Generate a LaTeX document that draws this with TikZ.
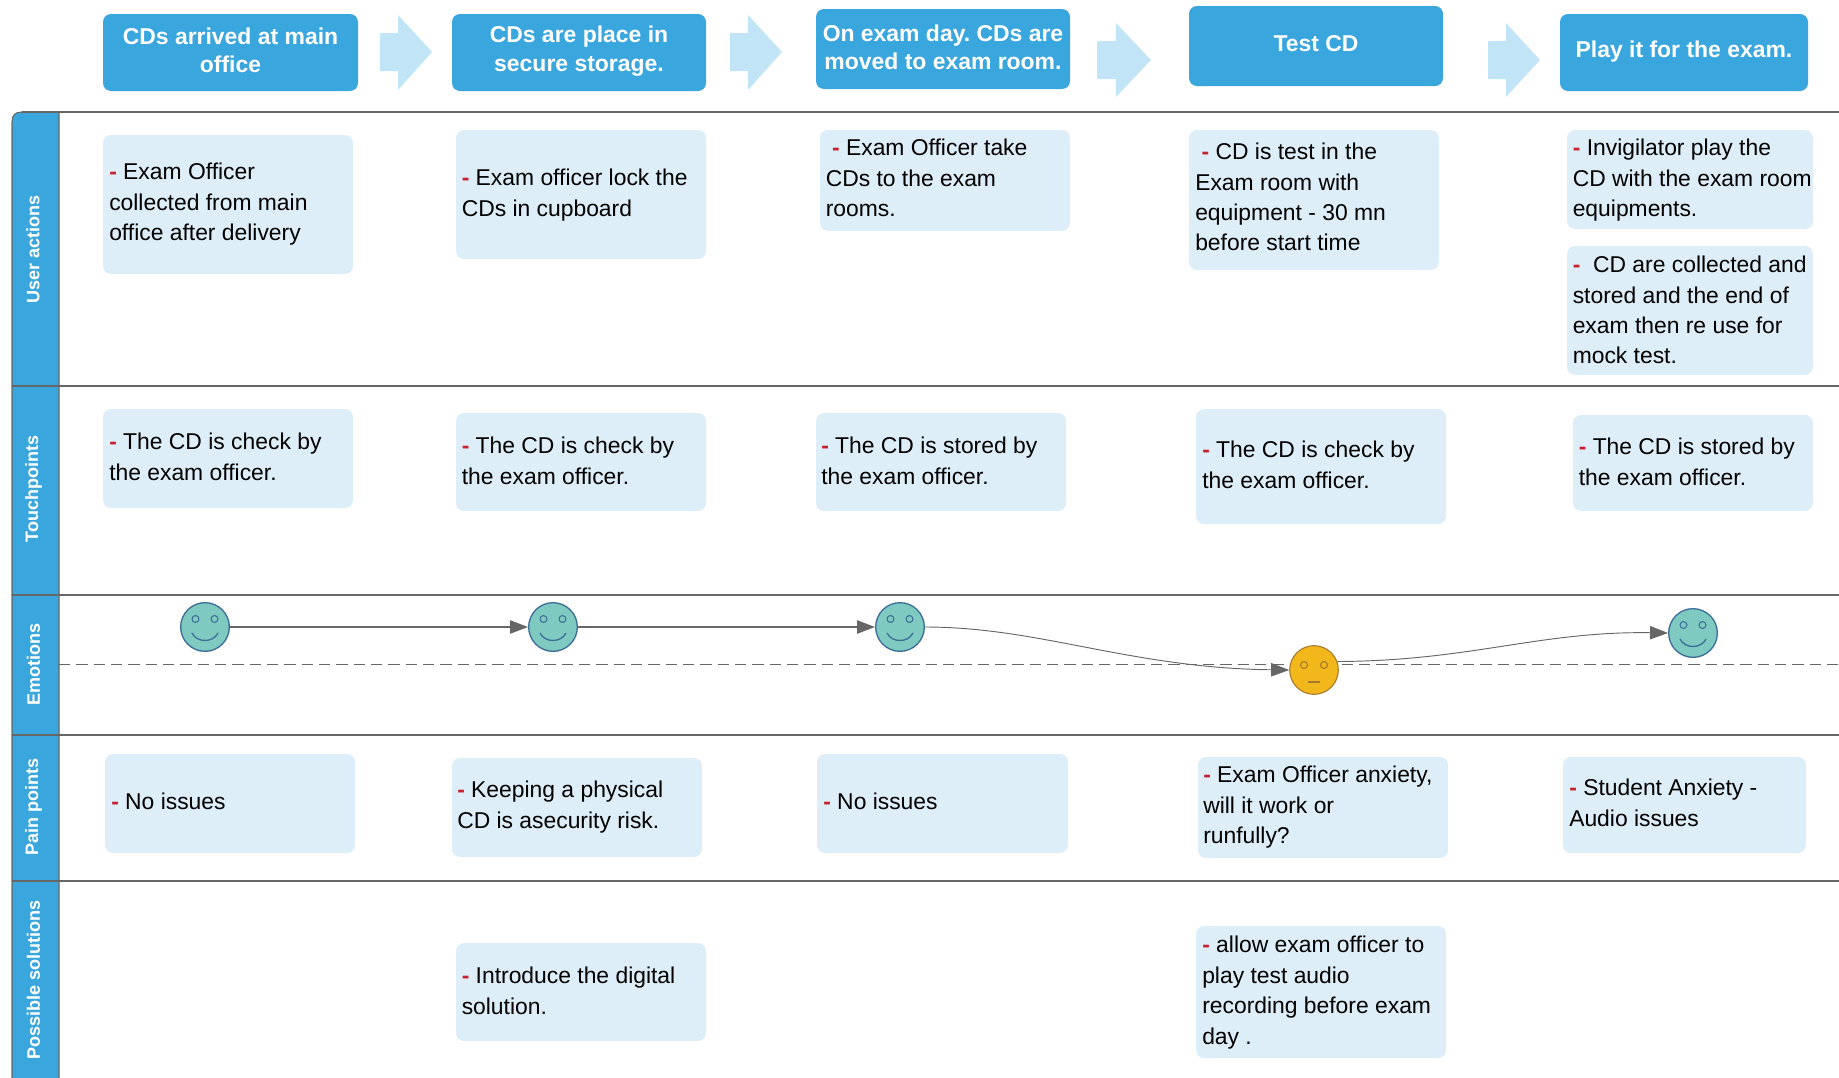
\documentclass[tikz,border=0pt]{standalone}
\usepackage{fontspec}
\setmainfont{Liberation Sans}
\usetikzlibrary{arrows.meta}
\frenchspacing

\definecolor{headblue}{HTML}{3AA6DE}
\definecolor{cardblue}{HTML}{DDEEF9}
\definecolor{steparrow}{HTML}{C1E4F7}
\definecolor{linegray}{HTML}{666666}
\definecolor{dashred}{HTML}{C9202F}
\definecolor{facegreen}{HTML}{7FCAC0}
\definecolor{faceedge}{HTML}{3C6E98}
\definecolor{faceorange}{HTML}{F2B71B}
\definecolor{orangeedge}{HTML}{A5792B}

\newcommand{\rd}{\textcolor{dashred}{\textbf{-}}}

\tikzset{
  headbox/.style={fill=headblue,draw=none,rounded corners=6pt},
  headtext/.style={inner sep=0pt,align=center,text=white,font=\bfseries\fontsize{17.2}{21.2}\selectfont},
  cardbox/.style={fill=cardblue,draw=none,rounded corners=6pt},
  cardtext/.style={anchor=north west,inner sep=0pt,align=left,font=\fontsize{17.15}{22.85}\selectfont},
  lanetext/.style={inner sep=0pt,rotate=90,text=white,font=\bfseries\fontsize{13.5}{16}\selectfont},
  laneline/.style={draw=linegray,line width=1.2pt},
  stepshape/.style={fill=steparrow,draw=none},
  goodface/.style={circle,minimum size=36.5pt,inner sep=0pt,fill=facegreen,draw=faceedge,line width=1pt},
  flatface/.style={circle,minimum size=36.5pt,inner sep=0pt,fill=faceorange,draw=orangeedge,line width=0.8pt},
  moodline/.style={draw=linegray,-{Triangle[length=13.5pt,width=10pt]}},
  smile/.pic={
    \draw [faceedge,line width=0.8pt] (-9.5,8) circle (2.6pt) (9.5,8) circle (2.6pt);
    \draw [faceedge,line width=1pt] (-13,-6) .. controls (-8,-16) and (8,-16) .. (13,-6);
  },
  flat/.pic={
    \draw [orangeedge,line width=0.8pt] (-10,5) circle (2.6pt) (10,5) circle (2.6pt);
    \draw [orangeedge,line width=0.8pt] (-6,-12) -- (6,-12);
  }
}

\begin{document}
\begin{tikzpicture}[x=0.75pt,y=0.75pt,yscale=-1,xscale=1]
\useasboundingbox (0,0) rectangle (1839,1078);

%Shape: lane header strip
\draw [fill=headblue,draw=linegray,line width=0.8pt] (59,1078) -- (59,112) -- (22,112) .. controls (15,112) and (12,115) .. (12,122) -- (12,1078) ;
%Shape: lane lines
\draw [laneline] (12,386) -- (1839,386) ;
\draw [laneline] (12,595) -- (1839,595) ;
\draw [laneline] (12,735) -- (1839,735) ;
\draw [laneline] (12,881) -- (1839,881) ;
\draw [draw=linegray,line width=0.8pt] (22,112) -- (1839,112) ;
\draw [draw=linegray,line width=0.7pt,dash pattern=on 8.5pt off 4.5pt] (59,664) -- (1839,664) ;

% Text Node
\draw (33,249) node [lanetext] (laneuser) {User actions};
% Text Node
\draw (33.5,489) node [lanetext] (lanetouch) {Touchpoints};
% Text Node
\draw (33.5,664) node [lanetext] (laneemotion) {Emotions};
% Text Node
\draw (33.5,807) node [lanetext] (lanepain) {Pain points};
% Text Node
\draw (33.5,980) node [lanetext] (lanesolution) {Possible solutions};

%Shape: step headers
\draw [headbox] (103,14) rectangle (358,91) ;
\draw [headbox] (452,14) rectangle (706,91) ;
\draw [headbox] (816,9) rectangle (1070,89) ;
\draw [headbox] (1189,6) rectangle (1443,86) ;
\draw [headbox] (1560,14) rectangle (1808,91) ;

%Shape: block arrows
\draw [stepshape] (380,33) -- (398,33) -- (398,15) -- (432,52) -- (398,90) -- (398,71) -- (380,71) -- cycle ;
\draw [stepshape] (730,33) -- (748,33) -- (748,15) -- (782,52) -- (748,90) -- (748,71) -- (730,71) -- cycle ;
\draw [stepshape] (1097,41) -- (1116,41) -- (1116,23) -- (1151,60) -- (1116,97) -- (1116,79) -- (1097,79) -- cycle ;
\draw [stepshape] (1488,41) -- (1506,41) -- (1506,23) -- (1540,60) -- (1506,97) -- (1506,79) -- (1488,79) -- cycle ;

% Text Node
\draw (230.5,50) node [headtext] (steparrived) {CDs arrived at main\\office};
% Text Node
\draw (579,51) node [headtext] (stepstorage) {CDs are place in\\secure storage.};
% Text Node
\draw (943,47) node [headtext] (stepmoved) {On exam day. CDs are\\moved to exam room.};
% Text Node
\draw (1316,44) node [headtext] (steptest) {Test CD};
% Text Node
\draw (1684,52) node [headtext] (stepplay) {Play it for the exam.};

%Shape: cards
\draw [cardbox] (103,135) rectangle (353,274) ;
\draw [cardbox] (456,130) rectangle (706,259) ;
\draw [cardbox] (820,130) rectangle (1070,231) ;
\draw [cardbox] (1189,130) rectangle (1439,270) ;
\draw [cardbox] (1567,130) rectangle (1813,229) ;
\draw [cardbox] (1567,246) rectangle (1813,375) ;
\draw [cardbox] (103,409) rectangle (353,508) ;
\draw [cardbox] (456,413) rectangle (706,511) ;
\draw [cardbox] (816,413) rectangle (1066,511) ;
\draw [cardbox] (1196,409) rectangle (1446,524) ;
\draw [cardbox] (1573,415) rectangle (1813,511) ;
\draw [cardbox] (105,754) rectangle (355,853) ;
\draw [cardbox] (452,758) rectangle (702,857) ;
\draw [cardbox] (817,754) rectangle (1068,853) ;
\draw [cardbox] (1198,757) rectangle (1448,858) ;
\draw [cardbox] (1563,757) rectangle (1806,853) ;
\draw [cardbox] (456,943) rectangle (706,1041) ;
\draw [cardbox] (1196,926) rectangle (1446,1058) ;

% Text Node
\draw (109,158) node [cardtext] (userone) {\strut\rd{} Exam Officer\\collected from main\\office after delivery};
% Text Node
\draw (461.5,164) node [cardtext] (usertwo) {\strut\rd{} Exam officer lock the\\CDs in cupboard};
% Text Node
\draw (825.5,134) node [cardtext] (userthree) {\strut\ \rd{} Exam Officer take\\CDs to the exam\\rooms.};
% Text Node
\draw (1195,138) node [cardtext] (userfour) {\strut\ \rd{} CD is test in the\\Exam room with\\equipment - 30 mn\\before start time};
% Text Node
\draw (1572.5,134) node [cardtext] (userfive) {\strut\rd{} Invigilator play the\\CD with the exam room\\equipments.};
% Text Node
\draw (1572.5,251) node [cardtext] (usersix) {\strut\rd{}\ \ CD are collected and\\stored and the end of\\exam then re use for\\mock test.};

% Text Node
\draw (109,428) node [cardtext] (touchone) {\strut\rd{} The CD is check by\\the exam officer.};
% Text Node
\draw (461.5,432) node [cardtext] (touchtwo) {\strut\rd{} The CD is check by\\the exam officer.};
% Text Node
\draw (821,432) node [cardtext] (touchthree) {\strut\rd{} The CD is stored by\\the exam officer.};
% Text Node
\draw (1202,436) node [cardtext] (touchfour) {\strut\rd{} The CD is check by\\the exam officer.};
% Text Node
\draw (1578.5,433) node [cardtext] (touchfive) {\strut\rd{} The CD is stored by\\the exam officer.};

% Text Node
\draw (111,788) node [cardtext] (painone) {\strut\rd{} No issues};
% Text Node
\draw (457,776) node [cardtext] (paintwo) {\strut\rd{} Keeping a physical\\CD is asecurity risk.};
% Text Node
\draw (823,788) node [cardtext] (painthree) {\strut\rd{} No issues};
% Text Node
\draw (1203,761) node [cardtext] (painfour) {\strut\rd{} Exam Officer anxiety,\\will it work or\\runfully?};
% Text Node
\draw (1569,774) node [cardtext] (painfive) {\strut\rd{} Student Anxiety -\\Audio issues};

% Text Node
\draw (461.5,962) node [cardtext] (solvetwo) {\strut\rd{} Introduce the digital\\solution.};
% Text Node
\draw (1202,931) node [cardtext] (solvefour) {\strut\rd{} allow exam officer to\\play test audio\\recording before exam\\day .};

%Shape: emotion faces
\node [goodface] (faceone) at (205,627) {};
\node [goodface] (facetwo) at (553,627) {};
\node [goodface] (facethree) at (900,627) {};
\node [flatface] (facefour) at (1314,670) {};
\node [goodface] (facefive) at (1693,633) {};
\pic at (faceone) {smile};
\pic at (facetwo) {smile};
\pic at (facethree) {smile};
\pic at (facefour) {flat};
\pic at (facefive) {smile};

%Straight Lines
\draw [moodline,line width=1.1pt] (faceone) -- (facetwo) ;
\draw [moodline,line width=1.1pt] (facetwo) -- (facethree) ;
%Curve Lines
\draw [moodline,line width=0.7pt] (facethree.east) .. controls (1040,627) and (1130,668) .. (facefour.west) ;
\draw [moodline,line width=0.7pt] (facefour.20) .. controls (1470,661) and (1540,631) .. (facefive.west) ;

\end{tikzpicture}
\end{document}
